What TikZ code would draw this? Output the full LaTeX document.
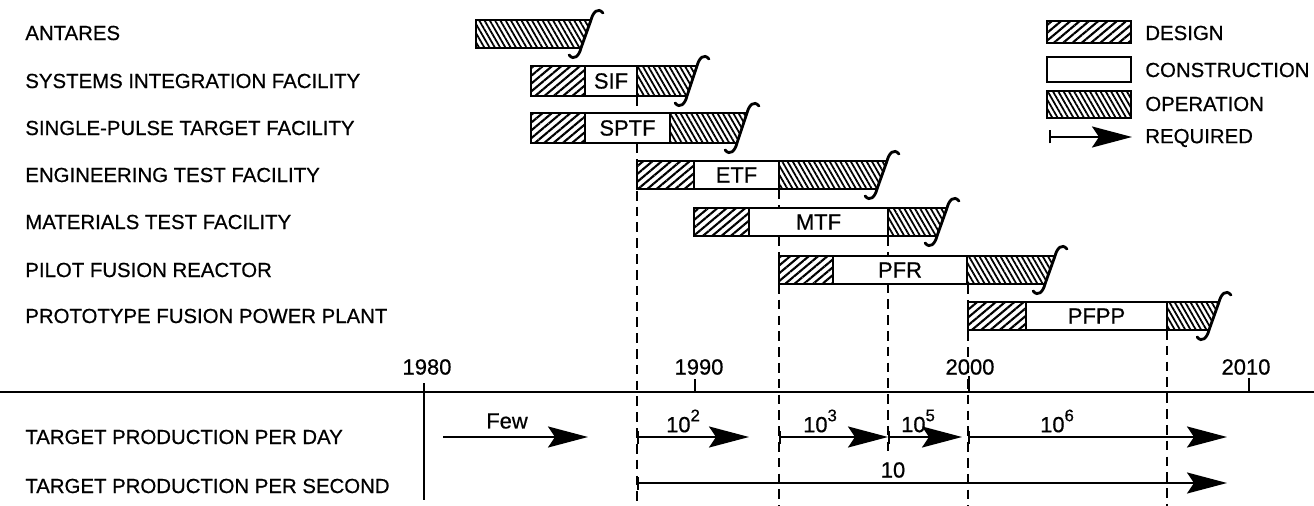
\documentclass[tikz,border=0pt]{standalone}
\usepackage{fontspec}
\setmainfont{Liberation Sans}[FakeBold=0.6]
\usetikzlibrary{arrows.meta,patterns.meta}

\newcommand{\pwr}[1]{\raisebox{0.5em}{\fontsize{9.5}{10}\selectfont #1}}

\tikzset{
  lbl/.style={anchor=west,inner sep=0pt,font=\fontsize{11.6}{13}\selectfont},
  txt/.style={inner sep=0pt,font=\fontsize{12.5}{14}\selectfont},
  yr/.style={inner sep=0pt,font=\fontsize{12.5}{14}\selectfont},
  designfill/.style={pattern={Lines[angle=40,distance=3.4pt,line width=1.2pt]}},
  opfill/.style={pattern={Lines[angle=120,distance=2.6pt,line width=1pt]}},
  outline/.style={line width=1.6pt},
  milestone/.style={line width=1.4pt,dash pattern=on 5.5pt off 3.5pt},
  req/.style={line width=1.4pt,-{Stealth[length=0.8cm,width=0.42cm,inset=0.14cm]}},
  reqbar/.style={line width=1.4pt,{Bar[width=0.26cm]}-{Stealth[length=0.8cm,width=0.42cm,inset=0.14cm]}},
}

\begin{document}
\begin{tikzpicture}[x=0.02cm,y=-0.02cm]
  \useasboundingbox (0,0) rectangle (1314,506);

  % facility names
  \node[lbl] (antares) at (25,33) {ANTARES};
  \node[lbl] (sif) at (25,81) {SYSTEMS INTEGRATION FACILITY};
  \node[lbl] (sptf) at (25,128) {SINGLE-PULSE TARGET FACILITY};
  \node[lbl] (etf) at (25,175) {ENGINEERING TEST FACILITY};
  \node[lbl] (mtf) at (25,222) {MATERIALS TEST FACILITY};
  \node[lbl] (pfr) at (25,270) {PILOT FUSION REACTOR};
  \node[lbl] (pfpp) at (25,316) {PROTOTYPE FUSION POWER PLANT};
  \node[lbl] (perday) at (25,437) {TARGET PRODUCTION PER DAY};
  \node[lbl] (persec) at (25,486) {TARGET PRODUCTION PER SECOND};

  % milestones
  \draw[milestone] (637,96) -- (637,506);
  \draw[milestone] (779,189) -- (779,506);
  \draw[milestone] (888,236) -- (888,452);
  \draw[milestone] (968,284) -- (968,506);
  \draw[milestone] (1167,330) -- (1167,506);

  % bars
  \foreach \nm/\ty/\by/\xd/\xc/\xo/\xe/\lab in {
      antares/20/48/476/476/476/586/{},
      sif/66/96/531/585/637/692/SIF,
      sptf/113/143/531/585/670/742/SPTF,
      etf/161/189/637/694/779/882/ETF,
      mtf/208/236/694/749/888/942/MTF,
      pfr/256/284/779/833/967/1050/PFR,
      pfpp/302/330/968/1026/1167/1214/PFPP}{
    \draw[outline,designfill] (\xd,\ty) rectangle (\xc,\by);
    \draw[outline,fill=white] (\xc,\ty) rectangle (\xo,\by);
    \path[opfill] (\xo,\ty) -- (\xe+5,\ty) -- (\xe-5,\by) -- (\xo,\by) -- cycle;
    \draw[outline] (\xe+5,\ty) -- (\xo,\ty) -- (\xo,\by) -- (\xe-5,\by);
    \draw[outline,line cap=round] (\xe-17,\by+7) .. controls (\xe-12,\by+13) and (\xe-7,\by+8) .. (\xe-5,\by)
      -- (\xe+5,\ty) .. controls (\xe+7,\ty-8) and (\xe+12,\ty-13) .. (\xe+17,\ty-7);
    \node[txt] (bar-\nm) at ({(\xc+\xo)/2},{(\ty+\by)/2}) {\lab};
  }

  % legend
  \draw[outline,designfill] (1047,21) rectangle (1131,43);
  \draw[outline] (1047,57) rectangle (1131,82);
  \draw[outline,opfill] (1047,91) rectangle (1131,118);
  \coordinate (key-s) at (1049,137);
  \coordinate (key-e) at (1132,137);
  \draw[reqbar] (key-s) -- (key-e);
  \node[lbl] (key-design) at (1145,33) {DESIGN};
  \node[lbl] (key-constr) at (1145,70) {CONSTRUCTION};
  \node[lbl] (key-oper) at (1145,104) {OPERATION};
  \node[lbl] (key-req) at (1145,138) {REQUIRED};

  % time axis
  \draw[line width=1.3pt] (0,392) -- (1314,392);
  \draw[line width=1.5pt] (424,383) -- (424,500);
  \draw[line width=1.3pt] (695,379) -- (695,392);
  \draw[line width=1.3pt] (969,376) -- (969,392);
  \draw[line width=1.3pt] (1249,378) -- (1249,392);
  \node[yr] (y1980) at (427,367) {1980};
  \node[yr] (y1990) at (699,367) {1990};
  \node[yr] (y2000) at (970,367) {2000};
  \node[yr] (y2010) at (1246,367) {2010};

  % required rates
  \coordinate (few-s) at (443,437);
  \coordinate (few-e) at (588,437);
  \coordinate (d2-s) at (637,437);
  \coordinate (d2-e) at (749,437);
  \coordinate (d3-s) at (779,437);
  \coordinate (d3-e) at (888,437);
  \coordinate (d5-s) at (888,437);
  \coordinate (d5-e) at (962,437);
  \coordinate (d6-s) at (968,437);
  \coordinate (d6-e) at (1227,437);
  \coordinate (s-s) at (637,483);
  \coordinate (s-e) at (1227,483);
  \draw[req] (few-s) -- (few-e);
  \draw[reqbar] (d2-s) -- (d2-e);
  \draw[reqbar] (d3-s) -- (d3-e);
  \draw[reqbar] (d5-s) -- (d5-e);
  \draw[reqbar] (d6-s) -- (d6-e);
  \draw[reqbar] (s-s) -- (s-e);
  \node[yr] (r-few) at (507,421) {Few};
  \node[yr] (r-d2) at (683,421) {10\pwr{2}};
  \node[yr] (r-d3) at (820,421) {10\pwr{3}};
  \node[yr] (r-d5) at (918,421) {10\pwr{5}};
  \node[yr] (r-d6) at (1057,421) {10\pwr{6}};
  \node[yr] (r-s) at (893,470) {10};
\end{tikzpicture}
\end{document}
